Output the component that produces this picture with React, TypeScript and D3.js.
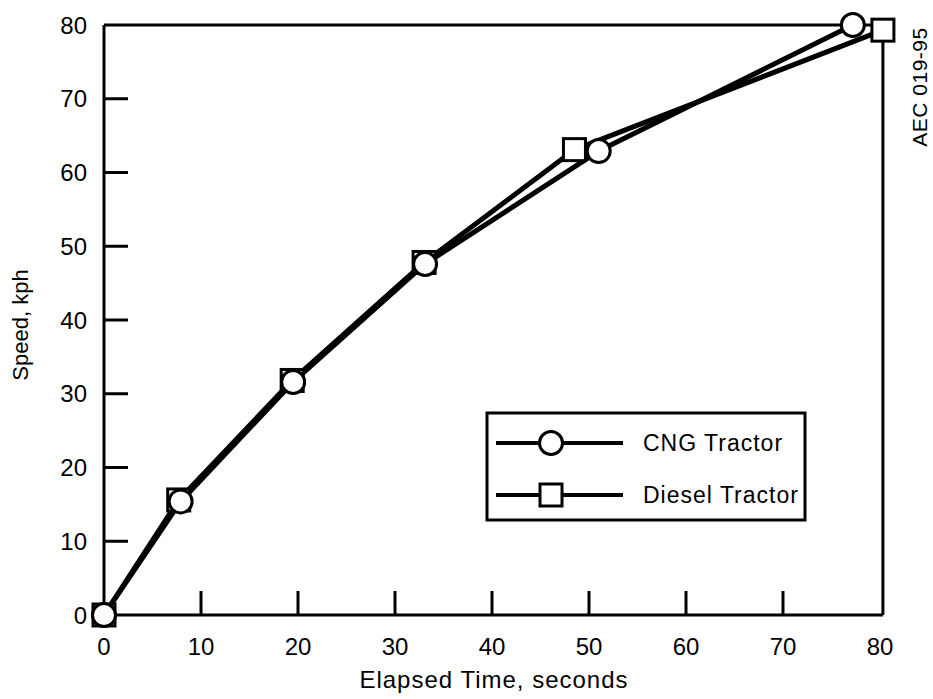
import React, { useRef, useEffect } from 'react';
import * as d3 from 'd3';

const xTicks = [0, 10, 20, 30, 40, 50, 60, 70, 80];
const yTicks = [0, 10, 20, 30, 40, 50, 60, 70, 80];

const cngTime = [0, 7.9, 19.5, 33.1, 51, 77.2];
const cngSpeed = [0, 15.4, 31.6, 47.6, 62.9, 80];

const dieselTime = [0, 7.7, 19.4, 33.0, 48.5, 80.3];
const dieselSpeed = [0, 15.6, 31.8, 47.8, 63.1, 79.3];

const seriesNames = ['CNG Tractor', 'Diesel Tractor'];

const FONT = '"Liberation Sans", Arial, sans-serif';

function App() {
  const ref = useRef<SVGSVGElement>(null);

  useEffect(() => {
    const svg = d3.select(ref.current);
    svg.selectAll('*').remove();

    const x = d3.scaleLinear().domain([0, 80]).range([104, 880]);
    const y = d3.scaleLinear().domain([0, 80]).range([615, 25]);

    const g = svg.append('g');

    // frame (left, bottom, top, right)
    const right = x(80.3);
    g.append('path')
      .attr('d', `M${x(0)},${y(80)}V${y(0)}H${right}M${x(0)},${y(80)}H${right}V${y(0)}`)
      .attr('fill', 'none')
      .attr('stroke', '#000')
      .attr('stroke-width', 3);

    // inward ticks
    g.selectAll('.xt')
      .data(xTicks.slice(1, -1))
      .enter().append('line')
      .attr('x1', (d) => x(d)).attr('x2', (d) => x(d))
      .attr('y1', y(0)).attr('y2', y(0) - 24)
      .attr('stroke', '#000').attr('stroke-width', 3);
    g.selectAll('.yt')
      .data(yTicks.slice(1, -1))
      .enter().append('line')
      .attr('x1', x(0)).attr('x2', x(0) + 24)
      .attr('y1', (d) => y(d)).attr('y2', (d) => y(d))
      .attr('stroke', '#000').attr('stroke-width', 3);

    g.selectAll('.xl')
      .data(xTicks)
      .enter().append('text')
      .attr('x', (d) => x(d)).attr('y', 655)
      .attr('text-anchor', 'middle')
      .attr('font-family', FONT).attr('font-size', 24)
      .text((d) => d);
    g.selectAll('.yl')
      .data(yTicks)
      .enter().append('text')
      .attr('x', 87).attr('y', (d) => y(d) + 8.5)
      .attr('text-anchor', 'end')
      .attr('font-family', FONT).attr('font-size', 24)
      .text((d) => d);

    g.append('text')
      .attr('x', 494).attr('y', 688)
      .attr('text-anchor', 'middle')
      .attr('font-family', FONT).attr('font-size', 24)
      .attr('letter-spacing', 1)
      .text('Elapsed Time, seconds');
    g.append('text')
      .attr('transform', 'translate(28,325) rotate(-90)')
      .attr('text-anchor', 'middle')
      .attr('font-family', FONT).attr('font-size', 22)
      .text('Speed, kph');
    g.append('text')
      .attr('transform', 'translate(927,87) rotate(-90)')
      .attr('text-anchor', 'middle')
      .attr('font-family', FONT).attr('font-size', 21)
      .attr('letter-spacing', 0.5)
      .text('AEC 019-95');

    const line = d3.line<[number, number]>().x((d) => x(d[0])).y((d) => y(d[1]));
    const cng: [number, number][] = cngTime.map((t, i) => [t, cngSpeed[i]]);
    const diesel: [number, number][] = dieselTime.map((t, i) => [t, dieselSpeed[i]]);

    [diesel, cng].forEach((pts) => {
      g.append('path')
        .attr('d', line(pts))
        .attr('fill', 'none')
        .attr('stroke', '#000')
        .attr('stroke-width', 5)
        .attr('stroke-linejoin', 'round');
    });

    const S = 22;
    g.selectAll('.sq')
      .data(diesel)
      .enter().append('rect')
      .attr('x', (d) => x(d[0]) - S / 2).attr('y', (d) => y(d[1]) - S / 2)
      .attr('width', S).attr('height', S)
      .attr('fill', '#fff').attr('stroke', '#000').attr('stroke-width', 3);
    g.selectAll('.ci')
      .data(cng)
      .enter().append('circle')
      .attr('cx', (d) => x(d[0])).attr('cy', (d) => y(d[1]))
      .attr('r', 11.5)
      .attr('fill', '#fff').attr('stroke', '#000').attr('stroke-width', 3);

    // legend
    const lg = g.append('g');
    lg.append('rect')
      .attr('x', 487).attr('y', 413).attr('width', 318).attr('height', 107)
      .attr('fill', '#fff').attr('stroke', '#000').attr('stroke-width', 3);
    seriesNames.forEach((name, i) => {
      const ly = 443 + i * 52;
      lg.append('line')
        .attr('x1', 496).attr('x2', 623).attr('y1', ly).attr('y2', ly)
        .attr('stroke', '#000').attr('stroke-width', 4);
      if (i === 0) {
        lg.append('circle').attr('cx', 551).attr('cy', ly).attr('r', 11.5)
          .attr('fill', '#fff').attr('stroke', '#000').attr('stroke-width', 3);
      } else {
        lg.append('rect').attr('x', 551 - S / 2).attr('y', ly - S / 2)
          .attr('width', S).attr('height', S)
          .attr('fill', '#fff').attr('stroke', '#000').attr('stroke-width', 3);
      }
      lg.append('text')
        .attr('x', 643).attr('y', ly + 8)
        .attr('font-family', FONT).attr('font-size', 23)
        .attr('letter-spacing', 1)
        .text(name);
    });
  }, []);

  return (
    <svg
      ref={ref}
      width={933}
      height={699}
      style={{ position: 'absolute', left: 0, top: 0, background: '#fff' }}
    />
  );
}

export default App;
